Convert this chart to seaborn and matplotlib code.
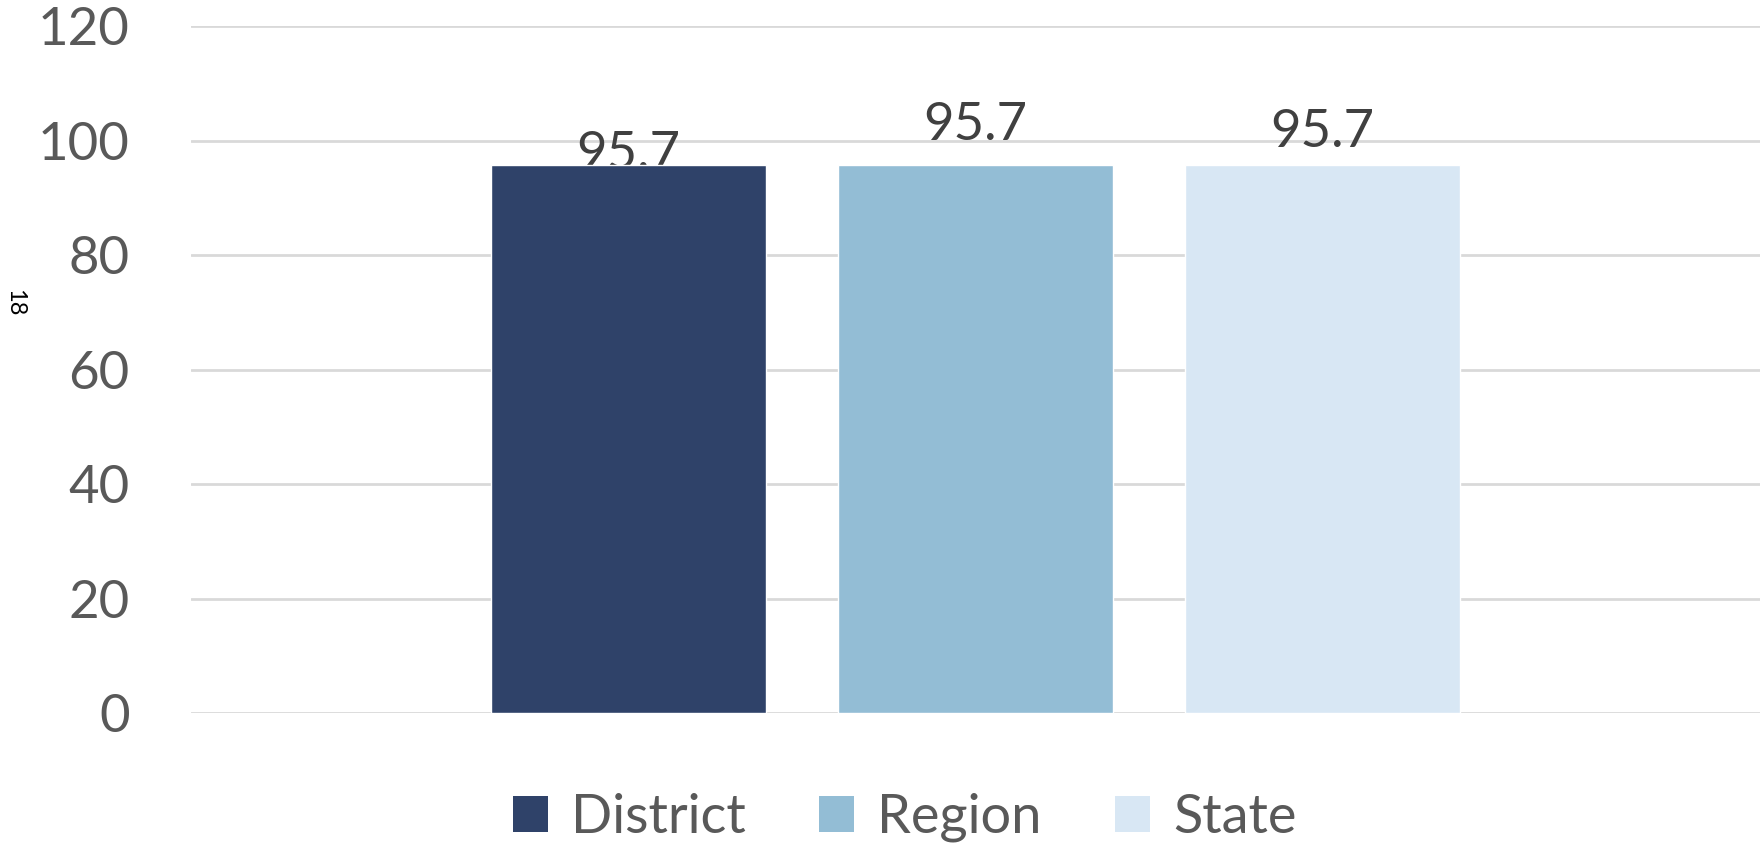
import pandas as pd
import matplotlib.pyplot as plt
import seaborn as sns
from matplotlib.patches import Patch

levels = ['District', 'Region', 'State']
values = [95.7, 95.7, 95.7]
colors = ['#2F4269', '#93BDD5', '#D8E7F4']
# label offsets (points) relative to bar top, as in the original export
label_offsets = [-3, 18, 13]

df = pd.DataFrame({'Group': [''] * len(levels), 'Level': levels, 'Value': values})

sns.set_style('white')
plt.rcParams['font.family'] = ['Lato', 'DejaVu Sans']

fig = plt.figure(figsize=(17.6, 8.47), dpi=100)
ax = fig.add_axes([0.1085, 0.1582, 0.8915, 0.8111])

sns.barplot(data=df, x='Group', y='Value', hue='Level', palette=colors,
            saturation=1, width=0.6635, gap=0.21, legend=False, ax=ax, zorder=3)

for cont, val, off in zip(ax.containers, values, label_offsets):
    bar = cont[0]
    ax.annotate(f'{val}', (bar.get_x() + bar.get_width() / 2, val),
                xytext=(0, off), textcoords='offset points',
                ha='center', va='baseline', fontsize=38, color='#404040', zorder=2)

ax.set_xlim(-0.5, 0.5)
ax.set_ylim(0, 120)
ax.set_yticks(range(0, 121, 20))
ax.yaxis.grid(True, color='#D9D9D9', linewidth=2, zorder=0)
ax.set_axisbelow(True)
for s in ax.spines.values():
    s.set_visible(False)
ax.tick_params(axis='y', length=0, pad=44, labelsize=38, labelcolor='#595959')
ax.tick_params(axis='x', length=0, labelbottom=False)
ax.set_xlabel('')
ax.set_ylabel('')

fig.text(0.0085, 0.643, '18', rotation=-90, fontsize=17, color='black',
         ha='center', va='center')

handles = [Patch(facecolor=c, edgecolor='none') for c in colors]
fig.legend(handles, levels, loc='center', bbox_to_anchor=(0.514, 0.035), ncol=3,
           frameon=False, fontsize=39, labelcolor='#595959', handlelength=0.65,
           handleheight=0.65, handletextpad=0.42, columnspacing=1.36)

fig.savefig('out.png', dpi=100)
